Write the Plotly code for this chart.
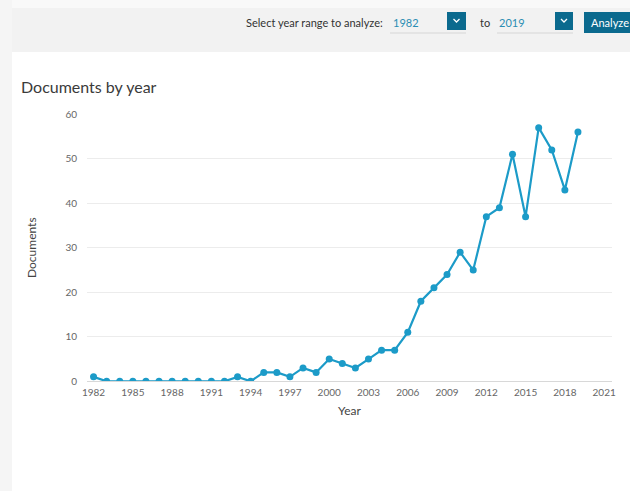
import plotly.graph_objects as go

years = list(range(1982, 2020))
documents = [1, 0, 0, 0, 0, 0, 0, 0, 0, 0, 0, 1, 0, 2, 2, 1, 3, 2, 5, 4,
             3, 5, 7, 7, 11, 18, 21, 24, 29, 25, 37, 39, 51, 37, 57, 52, 43, 56]
x_ticks = list(range(1982, 2022, 3))
y_ticks = [0, 10, 20, 30, 40, 50, 60]

W, H = 630, 491
def px(x):
    return x / W
def py(y):
    return 1 - y / H

LINE = "#1c9bc8"
DARK = "#0b6a8e"
FONT = "Lato, 'Open Sans', sans-serif"

fig = go.Figure()
fig.add_trace(go.Scatter(
    x=years, y=documents, mode="lines+markers",
    line=dict(color=LINE, width=2.2),
    marker=dict(color=LINE, size=7),
    hoverinfo="x+y", showlegend=False,
))

shapes = [
    dict(type="rect", xref="paper", yref="paper", x0=0, x1=px(12), y0=0, y1=1,
         fillcolor="#f5f5f5", line=dict(width=0), layer="below"),
    dict(type="rect", xref="paper", yref="paper", x0=px(12), x1=1, y0=py(52), y1=py(8),
         fillcolor="#f2f2f2", line=dict(width=0), layer="below"),
    dict(type="rect", xref="paper", yref="paper", x0=px(12), x1=1, y0=py(8), y1=1,
         fillcolor="#f9f9f9", line=dict(width=0), layer="below"),
    dict(type="line", xref="paper", yref="paper", x0=px(390), x1=px(466), y0=py(33), y1=py(33),
         line=dict(color="#d6d6d6", width=1)),
    dict(type="line", xref="paper", yref="paper", x0=px(497), x1=px(573), y0=py(33), y1=py(33),
         line=dict(color="#d6d6d6", width=1)),
    dict(type="rect", xref="paper", yref="paper", x0=px(447), x1=px(466), y0=py(30), y1=py(12),
         fillcolor=DARK, line=dict(width=0)),
    dict(type="rect", xref="paper", yref="paper", x0=px(555), x1=px(573), y0=py(30), y1=py(12),
         fillcolor=DARK, line=dict(width=0)),
    dict(type="rect", xref="paper", yref="paper", x0=px(584), x1=1, y0=py(33), y1=py(12),
         fillcolor=DARK, line=dict(width=0)),
]
for cx in (456.5, 564):
    shapes.append(dict(type="path", xref="paper", yref="paper",
                       path=f"M {px(cx-3)},{py(19)} L {px(cx)},{py(22)} L {px(cx+3)},{py(19)}",
                       line=dict(color="white", width=1.3)))

annotations = [
    dict(text="Select year range to analyze:", x=px(385), y=py(22), xref="paper", yref="paper",
         xanchor="right", yanchor="middle", showarrow=False,
         font=dict(family=FONT, size=11, color="#333333")),
    dict(text="1982", x=px(391), y=py(22), xref="paper", yref="paper",
         xanchor="left", yanchor="middle", showarrow=False,
         font=dict(family=FONT, size=11, color="#2a8db3")),
    dict(text="to", x=px(478), y=py(22), xref="paper", yref="paper",
         xanchor="left", yanchor="middle", showarrow=False,
         font=dict(family=FONT, size=11, color="#333333")),
    dict(text="2019", x=px(497), y=py(22), xref="paper", yref="paper",
         xanchor="left", yanchor="middle", showarrow=False,
         font=dict(family=FONT, size=11, color="#2a8db3")),
    dict(text="Analyze", x=px(589), y=py(22), xref="paper", yref="paper",
         xanchor="left", yanchor="middle", showarrow=False,
         font=dict(family=FONT, size=11, color="white")),
    dict(text="Documents by year", x=px(19), y=py(86), xref="paper", yref="paper",
         xanchor="left", yanchor="middle", showarrow=False,
         font=dict(family=FONT, size=16, color="#3a3a3a")),
    dict(text="Documents", x=px(31), y=py(248), xref="paper", yref="paper",
         xanchor="center", yanchor="middle", showarrow=False, textangle=-90,
         font=dict(family=FONT, size=12, color="#444444")),
    dict(text="Year", x=px(349), y=py(410), xref="paper", yref="paper",
         xanchor="center", yanchor="middle", showarrow=False,
         font=dict(family=FONT, size=12, color="#444444")),
]

fig.update_layout(
    width=W, height=H, autosize=False,
    margin=dict(l=0, r=0, t=0, b=0, pad=0, autoexpand=False),
    paper_bgcolor="white", plot_bgcolor="white",
    font=dict(family=FONT, size=10, color="#666666"),
    shapes=shapes, annotations=annotations,
    xaxis=dict(domain=[px(87), px(612)], range=[1981.5, 2021.6], automargin=False,
               tickmode="array", tickvals=x_ticks, ticktext=[str(t) for t in x_ticks],
               showgrid=False, zeroline=False, showline=True, linecolor="#d8d8d8",
               linewidth=1, ticks="", ticklabelstandoff=2,
               tickfont=dict(family=FONT, size=10, color="#666666"), fixedrange=True),
    yaxis=dict(domain=[py(381.3), py(114.3)], range=[0, 60], automargin=False,
               tickmode="array", tickvals=y_ticks, ticktext=[str(t) for t in y_ticks],
               showgrid=True, gridcolor="#ececec", gridwidth=1, zeroline=False,
               showline=False, ticks="", ticklabelstandoff=9,
               tickfont=dict(family=FONT, size=10, color="#666666"), fixedrange=True),
)

fig.write_html(
    "out.html",
    config={"displayModeBar": False},
    post_script="document.body.style.margin='0px';document.body.style.overflow='hidden';",
)
